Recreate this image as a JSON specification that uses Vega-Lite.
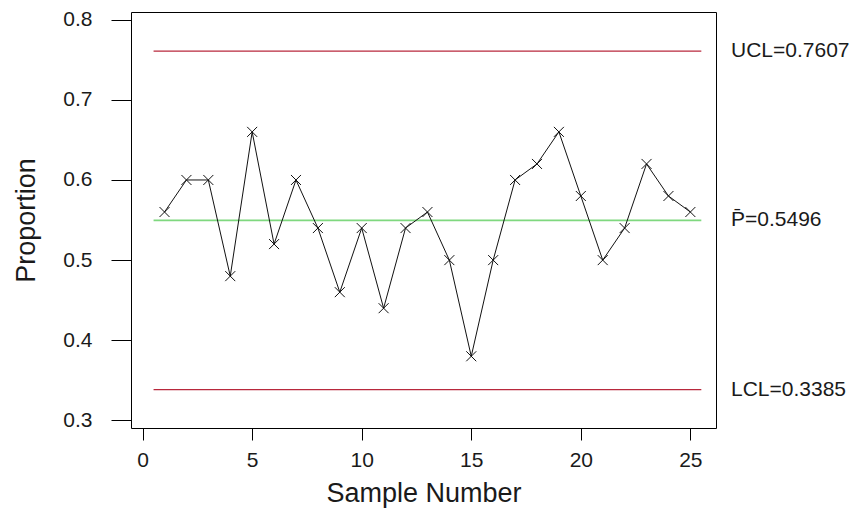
{
  "$schema": "https://vega.github.io/schema/vega-lite/v6.json",
  "width": 585,
  "height": 416,
  "autosize": {"type": "none"},
  "padding": {"left": 131, "top": 12, "right": 145, "bottom": 85},
  "background": "white",
  "config": {
    "font": "Liberation Sans",
    "view": {"stroke": "#000000", "strokeWidth": 1},
    "axis": {"grid": false, "domain": false, "tickColor": "#000000", "labelColor": "#1a1a1a", "titleColor": "#1a1a1a", "titleFontWeight": "normal", "labelFont": "Liberation Sans", "titleFont": "Liberation Sans"}
  },
  "datasets": {
    "samples": [
      {"sample": 1, "p": 0.56}, {"sample": 2, "p": 0.60}, {"sample": 3, "p": 0.60},
      {"sample": 4, "p": 0.48}, {"sample": 5, "p": 0.66}, {"sample": 6, "p": 0.52},
      {"sample": 7, "p": 0.60}, {"sample": 8, "p": 0.54}, {"sample": 9, "p": 0.46},
      {"sample": 10, "p": 0.54}, {"sample": 11, "p": 0.44}, {"sample": 12, "p": 0.54},
      {"sample": 13, "p": 0.56}, {"sample": 14, "p": 0.50}, {"sample": 15, "p": 0.38},
      {"sample": 16, "p": 0.50}, {"sample": 17, "p": 0.60}, {"sample": 18, "p": 0.62},
      {"sample": 19, "p": 0.66}, {"sample": 20, "p": 0.58}, {"sample": 21, "p": 0.50},
      {"sample": 22, "p": 0.54}, {"sample": 23, "p": 0.62}, {"sample": 24, "p": 0.58},
      {"sample": 25, "p": 0.56}
    ],
    "limits": [
      {"kind": "UCL", "value": 0.7607, "start": 0.5, "end": 25.5, "label": "UCL=0.7607"},
      {"kind": "CL", "value": 0.5496, "start": 0.5, "end": 25.5, "label": "P̄=0.5496"},
      {"kind": "LCL", "value": 0.3385, "start": 0.5, "end": 25.5, "label": "LCL=0.3385"}
    ]
  },
  "layer": [
    {
      "data": {"name": "limits"},
      "transform": [{"filter": "datum.kind !== 'CL'"}],
      "mark": {"type": "rule", "color": "#b8283c", "strokeWidth": 1.2},
      "encoding": {
        "x": {"field": "start", "type": "quantitative", "scale": {"domain": [-0.53, 26.17], "nice": false, "zero": false},
              "axis": {"values": [0, 5, 10, 15, 20, 25], "title": "Sample Number", "tickSize": 12, "labelFontSize": 21, "labelPadding": 9, "titleFontSize": 27, "titlePadding": 10}},
        "x2": {"field": "end"},
        "y": {"field": "value", "type": "quantitative", "scale": {"domain": [0.2905, 0.8096], "nice": false, "zero": false},
              "axis": {"values": [0.3, 0.4, 0.5, 0.6, 0.7, 0.8], "format": ".1f", "title": "Proportion", "tickSize": 20, "labelFontSize": 21, "labelPadding": 19, "titleFontSize": 27, "titlePadding": 22}}
      }
    },
    {
      "data": {"name": "limits"},
      "transform": [{"filter": "datum.kind === 'CL'"}],
      "mark": {"type": "rule", "color": "#7fd87f", "strokeWidth": 1.6},
      "encoding": {
        "x": {"field": "start", "type": "quantitative"},
        "x2": {"field": "end"},
        "y": {"field": "value", "type": "quantitative"}
      }
    },
    {
      "data": {"name": "samples"},
      "mark": {"type": "line", "color": "#111111", "strokeWidth": 1},
      "encoding": {
        "x": {"field": "sample", "type": "quantitative"},
        "y": {"field": "p", "type": "quantitative"}
      }
    },
    {
      "data": {"name": "samples"},
      "mark": {"type": "point", "shape": "M-1,-1L1,1M-1,1L1,-1", "filled": false, "color": "#111111", "size": 100, "strokeWidth": 1, "opacity": 1},
      "encoding": {
        "x": {"field": "sample", "type": "quantitative"},
        "y": {"field": "p", "type": "quantitative"}
      }
    },
    {
      "data": {"name": "limits"},
      "mark": {"type": "text", "align": "left", "baseline": "middle", "fontSize": 21, "color": "#1a1a1a", "dx": 15, "clip": false},
      "encoding": {
        "x": {"value": "width"},
        "y": {"field": "value", "type": "quantitative"},
        "text": {"field": "label"}
      }
    }
  ]
}
